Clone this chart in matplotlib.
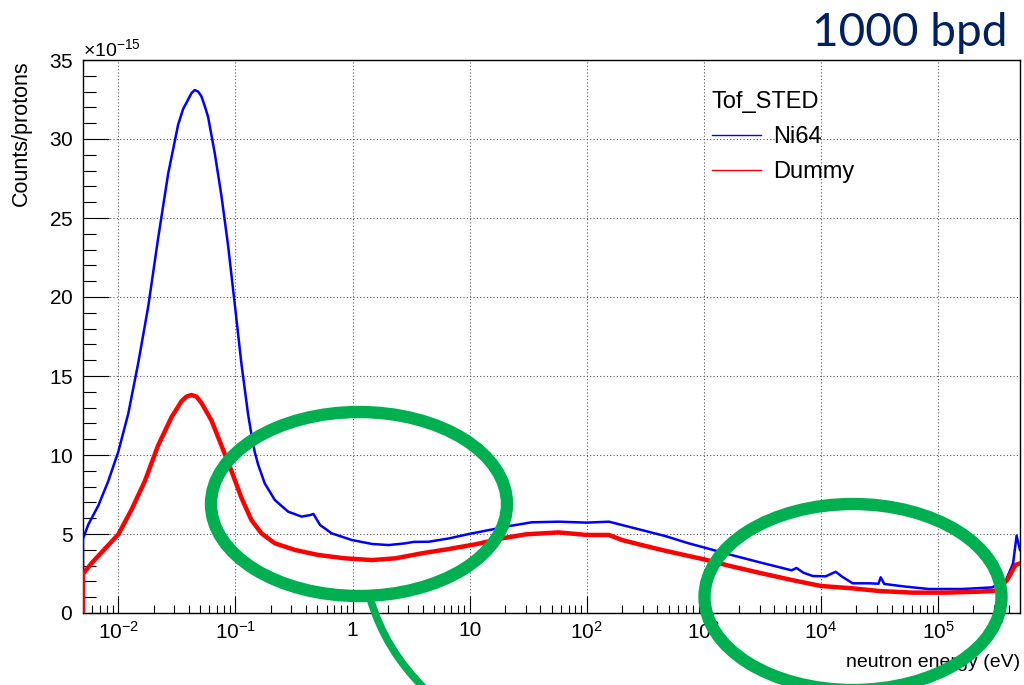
import numpy as np
import matplotlib
matplotlib.use("Agg")
import matplotlib.pyplot as plt
import matplotlib.transforms as mtransforms
from matplotlib.patches import Ellipse, PathPatch
from matplotlib.path import Path
from matplotlib.lines import Line2D
from matplotlib.ticker import FixedLocator, MultipleLocator, FuncFormatter, NullFormatter

plt.rcParams['font.family'] = ['Liberation Sans', 'DejaVu Sans']
plt.rcParams['mathtext.fontset'] = 'custom'
plt.rcParams['mathtext.rm'] = 'Liberation Sans'
plt.rcParams['mathtext.it'] = 'Liberation Sans:italic'

# values (counts/protons in units of 1e-15)
ni64_energy = [0.005, 0.005, 0.00555, 0.00676, 0.00822, 0.0100, 0.01216, 0.01479, 0.01803,
               0.02188, 0.02667, 0.03243, 0.0358, 0.03954, 0.04217, 0.04498, 0.04808,
               0.05129, 0.05470, 0.05848, 0.06668,
               0.07603, 0.0865, 0.09863, 0.1125, 0.1282, 0.1371, 0.1462, 0.1563, 0.1782,
               0.2173, 0.2825, 0.3681, 0.4365, 0.4634, 0.5284, 0.6653, 0.9863, 1.466,
               2.037, 2.825, 3.334, 4.477, 6.653, 9.863, 14.66, 21.73, 33.88, 57.54, 100,
               154.9, 199.5, 295.1, 467.7, 741.3, 1000, 1622, 2951, 5623, 6166, 7079,
               8511, 10960, 13340, 15140, 18620, 25700, 30900, 32360, 34670, 52480,
               83180, 162200, 288400, 380200, 436500, 467700, 500000]
ni64_counts = [0.0, 4.7, 5.6, 6.8, 8.35, 10.2, 12.6, 15.8, 19.4,
               23.7, 27.8, 30.9, 31.9, 32.5, 32.9, 33.1, 33.0,
               32.7, 32.1, 31.4, 29.1,
               26.4, 23.3, 19.6, 15.8, 12.6, 11.3, 10.2, 9.4, 8.2,
               7.15, 6.41, 6.1, 6.2, 6.27, 5.57, 5.04, 4.62, 4.37,
               4.3, 4.41, 4.5, 4.51, 4.72, 5.0, 5.25, 5.5, 5.74, 5.78, 5.72,
               5.78, 5.57, 5.25, 4.87, 4.41, 4.15, 3.72, 3.22, 2.7, 2.85, 2.55,
               2.34, 2.32, 2.61, 2.3, 1.88, 1.88, 1.85, 2.26, 1.84, 1.67,
               1.52, 1.52, 1.62, 2.09, 3.14, 4.9, 3.99]

dummy_energy = [0.005, 0.005, 0.00593, 0.00769, 0.0100, 0.0130, 0.01687, 0.02188, 0.02851,
                0.03467, 0.03830, 0.04217, 0.04650, 0.05129, 0.06237, 0.07603, 0.09247,
                0.1125, 0.1371,
                0.1671, 0.2173, 0.3228, 0.5117, 0.865, 1.466, 2.323, 3.926, 6.653,
                11.25, 19.05, 30.2, 57.54, 100, 154.9, 199.5, 295.1, 467.7, 741.3,
                1000, 1622, 2951, 5623, 10000, 18620, 31620, 60260, 117500, 223900,
                309000, 389000, 457100, 500000]
dummy_counts = [0.0, 2.48, 3.16, 4.06, 4.97, 6.55, 8.35, 10.6, 12.4,
                13.4, 13.7, 13.8, 13.7, 13.3, 12.2, 10.6, 9.0,
                7.3, 5.88,
                5.04, 4.41, 3.99, 3.67, 3.46, 3.35, 3.46, 3.78, 4.05,
                4.35, 4.73, 4.98, 5.1, 4.94, 4.94, 4.62, 4.3, 3.94, 3.61,
                3.4, 3.0, 2.55, 2.09, 1.71, 1.56, 1.39, 1.29, 1.29, 1.35,
                1.41, 2.09, 3.04, 3.14]

series_labels = ['Ni64', 'Dummy']
series_colors = ['#0000ff', '#ff0000']
legend_title = 'Tof_STED'
decades = [-2, -1, 0, 1, 2, 3, 4, 5]
scale = 1e-15

fig = plt.figure(figsize=(10.24, 6.85), dpi=100)
ax = fig.add_axes([83/1024, 1 - 613/685, 937/1024, 553/685])

ax.plot(ni64_energy, np.array(ni64_counts) * scale, color=series_colors[0], lw=1.8, zorder=3)
ax.plot(dummy_energy, np.array(dummy_counts) * scale, color=series_colors[1], lw=3.2, zorder=4)

ax.set_xscale('log')
ax.set_xlim(0.005, 5e5)
ax.set_ylim(0, 35e-15)

major_x = [10.0 ** d for d in decades]
minor_x = [m * 10.0 ** d for d in range(-3, 6) for m in range(2, 10)]
minor_x = [v for v in minor_x if 0.005 < v < 5e5]
ax.xaxis.set_major_locator(FixedLocator(major_x))
ax.xaxis.set_minor_locator(FixedLocator(minor_x))
ax.xaxis.set_minor_formatter(NullFormatter())

def fmt_energy(v, pos):
    e = int(round(np.log10(v)))
    if e == 0:
        return '1'
    if e == 1:
        return '10'
    return r'$\mathregular{10^{%d}}$' % e

ax.xaxis.set_major_formatter(FuncFormatter(fmt_energy))

ax.yaxis.set_major_locator(MultipleLocator(5e-15))
ax.yaxis.set_minor_locator(MultipleLocator(1e-15))
ax.ticklabel_format(axis='y', style='sci', scilimits=(-15, -15), useMathText=True)
ax.yaxis.get_offset_text().set_fontsize(14)

ax.tick_params(which='both', direction='in', top=False, right=False, labelsize=15)
ax.tick_params(axis='x', which='major', length=12, width=0.8, pad=6)
ax.tick_params(axis='x', which='minor', length=6, width=0.8)
ax.tick_params(axis='y', which='major', length=19, width=0.8, pad=7)
ax.tick_params(axis='y', which='minor', length=9.5, width=0.8)

ax.grid(True, which='major', color='#555555', linestyle=(0, (1, 2)), lw=0.8)
for s in ax.spines.values():
    s.set_linewidth(1.0)

ax.set_ylabel('Counts/protons', fontsize=15.5, loc='top', labelpad=12)
ax.set_xlabel('neutron energy (eV)', fontsize=14, loc='right', labelpad=8)

handles = [Line2D([], [], color=c, lw=1) for c in series_colors]
leg = ax.legend(handles, series_labels, title=legend_title, loc='upper left',
                bbox_to_anchor=(700/1024, 1 - 79/685), bbox_transform=fig.transFigure,
                frameon=False, fontsize=17, title_fontsize=17, alignment='left',
                handlelength=2.1, handletextpad=0.5, labelspacing=0.56, borderpad=0)

# slide annotations drawn over the chart, in pixel coords from the top-left corner
px = mtransforms.Affine2D().scale(1/1024, -1/685).translate(0, 1) + fig.transFigure
green = '#00b050'
fig.patches.append(Ellipse((359, 504), 296, 184, fill=False, ec=green, lw=8.9,
                           transform=px, figure=fig, zorder=10))
fig.patches.append(Ellipse((853, 597), 297, 186, fill=False, ec=green, lw=8.9,
                           transform=px, figure=fig, zorder=10))
tail = Path([(370, 598), (385, 650), (426, 690)], [Path.MOVETO, Path.CURVE3, Path.CURVE3])
fig.patches.append(PathPatch(tail, fill=False, ec=green, lw=5.5,
                             transform=px, figure=fig, zorder=10))

fig.text(1008, 46, '1000 bpd', ha='right', va='baseline', fontsize=33,
         color='#002060', family='Lato', transform=px)

fig.savefig('out.png', dpi=100)
